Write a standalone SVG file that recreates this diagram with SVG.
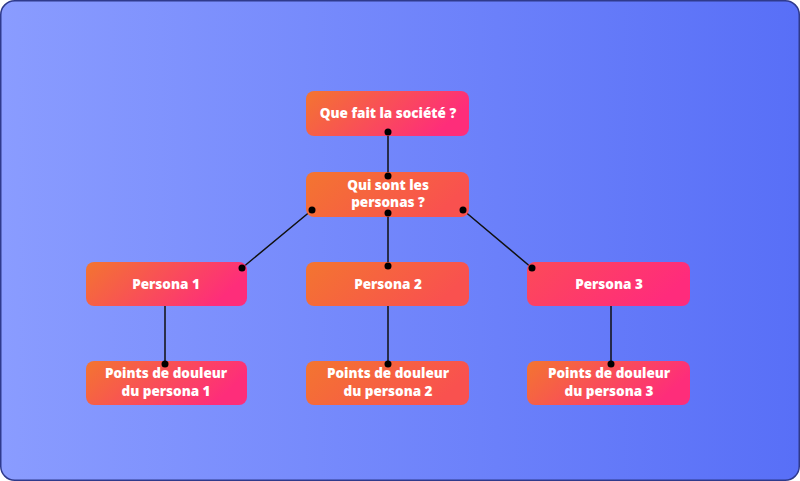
<svg xmlns="http://www.w3.org/2000/svg" width="800" height="481" viewBox="0 0 800 481">
<defs>
<linearGradient id="bg" x1="0" y1="0" x2="1" y2="0"><stop offset="0" stop-color="#8a9cff"/><stop offset="1" stop-color="#586ff7"/></linearGradient>
<linearGradient id="g1" x1="0" y1="0" x2="1" y2="0.3"><stop offset="0" stop-color="#f37530"/><stop offset="1" stop-color="#fe2d7a"/></linearGradient>
<linearGradient id="g2" x1="0" y1="0" x2="1" y2="0.3"><stop offset="0" stop-color="#f37530"/><stop offset="1" stop-color="#f9514f"/></linearGradient>
<linearGradient id="g3" x1="0" y1="0" x2="1" y2="0.3"><stop offset="0" stop-color="#fc4a58"/><stop offset="1" stop-color="#ff2b7c"/></linearGradient>
<style>
.b{rx:8px}
.t{font-family:"Open Sans","Liberation Sans",sans-serif;font-weight:800;font-size:13.5px;fill:#fff;text-anchor:middle}
.c{stroke:#111;stroke-width:1.5;fill:none}
.d{fill:#000}
</style>
</defs>
<rect x="0.75" y="0.75" width="798.5" height="479.5" rx="14" fill="url(#bg)" stroke="#2f3a8c" stroke-width="1.5"/>
<g id="connectors">
<path class="c" d="M388 136V172M388 217V264M312 210L242 268M463 210L532 268M165 306V364M388 306V364M611 306V364"/>
</g>
<g id="n1"><rect class="b" x="306" y="91" width="163" height="45" fill="url(#g1)"/><text class="t" x="388" y="118">Que fait la société ?</text></g>
<g id="n2"><rect class="b" x="306" y="172" width="163" height="45" fill="url(#g2)"/><text class="t" x="388" y="190">Qui sont les</text><text class="t" x="388" y="207">personas ?</text></g>
<g id="p1"><rect class="b" x="86" y="262" width="161" height="44" fill="url(#g1)"/><text class="t" x="166" y="289">Persona 1</text></g>
<g id="p2"><rect class="b" x="306" y="262" width="163" height="44" fill="url(#g2)"/><text class="t" x="388" y="289">Persona 2</text></g>
<g id="p3"><rect class="b" x="527" y="262" width="163" height="44" fill="url(#g3)"/><text class="t" x="609" y="289">Persona 3</text></g>
<g id="d1"><rect class="b" x="86" y="361" width="161" height="44" fill="url(#g1)"/><text class="t" x="166" y="378">Points de douleur</text><text class="t" x="166" y="396">du persona 1</text></g>
<g id="d2"><rect class="b" x="306" y="361" width="163" height="44" fill="url(#g2)"/><text class="t" x="388" y="378">Points de douleur</text><text class="t" x="388" y="396">du persona 2</text></g>
<g id="d3"><rect class="b" x="527" y="361" width="163" height="44" fill="url(#g1)"/><text class="t" x="609" y="378">Points de douleur</text><text class="t" x="609" y="396">du persona 3</text></g>
<g id="dots">
<circle class="d" cx="388" cy="132" r="3.5"/><circle class="d" cx="388" cy="176" r="3.5"/><circle class="d" cx="388" cy="213" r="3.5"/><circle class="d" cx="312" cy="210" r="3.5"/><circle class="d" cx="463" cy="210" r="3.5"/>
<circle class="d" cx="242" cy="268" r="3.5"/><circle class="d" cx="388" cy="266" r="3.5"/><circle class="d" cx="532" cy="268" r="3.5"/>
<circle class="d" cx="165" cy="364" r="3.5"/><circle class="d" cx="388" cy="364" r="3.5"/><circle class="d" cx="611" cy="364" r="3.5"/>
</g>
</svg>
